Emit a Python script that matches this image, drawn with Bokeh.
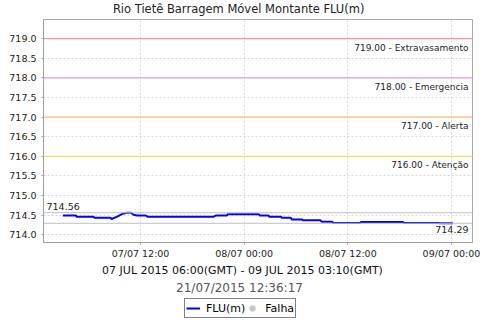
import pandas as pd
from bokeh.plotting import figure
from bokeh.layouts import column
from bokeh.models import (Span, Label, Range1d, FixedTicker, DatetimeTickFormatter,
                          Legend, LegendItem, NumeralTickFormatter, ColumnDataSource)
from bokeh.embed import file_html
from bokeh.resources import INLINE

title_text = "Rio Tietê Barragem Móvel Montante  FLU(m)"
period_text = "07 JUL 2015 06:00(GMT) - 09 JUL 2015 03:10(GMT)"
stamp_text = "21/07/2015 12:36:17"
legend_labels = ["FLU(m)", "Falha"]

times = [
    "2015-07-07 03:00", "2015-07-07 04:30", "2015-07-07 04:36", "2015-07-07 06:30",
    "2015-07-07 06:42", "2015-07-07 08:30", "2015-07-07 08:39", "2015-07-07 09:18",
    "2015-07-07 09:54", "2015-07-07 10:24", "2015-07-07 10:54", "2015-07-07 11:12",
    "2015-07-07 11:36", "2015-07-07 12:36", "2015-07-07 12:48", "2015-07-07 20:30",
    "2015-07-07 20:42", "2015-07-07 22:00", "2015-07-07 22:06", "2015-07-08 01:42",
    "2015-07-08 01:48", "2015-07-08 02:48", "2015-07-08 02:54", "2015-07-08 04:12",
    "2015-07-08 04:24", "2015-07-08 05:24", "2015-07-08 05:30", "2015-07-08 06:42",
    "2015-07-08 06:48", "2015-07-08 08:48", "2015-07-08 09:00", "2015-07-08 10:12",
    "2015-07-08 10:18", "2015-07-08 11:30", "2015-07-08 13:24", "2015-07-08 13:30",
    "2015-07-08 17:12", "2015-07-08 18:24", "2015-07-08 18:30", "2015-07-08 22:30",
    "2015-07-08 22:36", "2015-07-09 00:10",
]
levels = [
    714.49, 714.49, 714.46, 714.46,
    714.43, 714.43, 714.40, 714.46,
    714.53, 714.56, 714.56, 714.51,
    714.49, 714.49, 714.46, 714.46,
    714.49, 714.49, 714.52, 714.52,
    714.49, 714.49, 714.46, 714.46,
    714.43, 714.43, 714.39, 714.39,
    714.37, 714.37, 714.33, 714.33,
    714.30, 714.30, 714.30, 714.32,
    714.32, 714.32, 714.30, 714.30,
    714.29, 714.29,
]

threshold_values = [719.0, 718.0, 717.0, 716.0]
threshold_names = ["Extravasamento", "Emergencia", "Alerta", "Atenção"]
threshold_colors = ["#ff8080", "#e080e8", "#ffb060", "#e8e040"]

max_value = 714.56
min_value = 714.29

x_ticks = ["2015-07-07 12:00", "2015-07-08 00:00", "2015-07-08 12:00", "2015-07-09 00:00"]
y_ticks = [714.0, 714.5, 715.0, 715.5, 716.0, 716.5, 717.0, 717.5, 718.0, 718.5, 719.0]
x_start, x_end = "2015-07-07 00:46", "2015-07-09 02:26"
y_start, y_end = 713.8, 719.49

FONT = "DejaVu Sans"
LEFT, RIGHT = 43, 8
HEAD_H, MAIN_H, FOOT_H = 17, 245, 58


def text_strip(height):
    """A blank strip whose data units equal page pixels (x) and pixels from its top (y)."""
    s = figure(width=480, height=height, output_backend="svg", toolbar_location=None,
               x_range=Range1d(LEFT, 480 - RIGHT), y_range=Range1d(height, 0),
               x_axis_location=None, y_axis_location=None,
               min_border_left=LEFT, min_border_right=RIGHT,
               min_border_top=0, min_border_bottom=0)
    s.title.visible = False
    s.grid.visible = False
    s.outline_line_color = None
    s.background_fill_color = "white"
    s.border_fill_color = "white"
    return s


src = ColumnDataSource(dict(t=pd.to_datetime(times), v=levels))
to_ms = lambda s: pd.Timestamp(s).value / 1e6

# ---------------- header ----------------
h = text_strip(HEAD_H)
h.add_layout(Label(x=240, y=8.5, text=title_text, text_align="center",
                   text_baseline="middle", text_font=FONT, text_font_size="11.5px",
                   text_color="#222222"))

# ---------------- main chart ----------------
p = figure(width=480, height=MAIN_H, output_backend="svg", toolbar_location=None,
           x_axis_type="datetime",
           x_range=Range1d(pd.Timestamp(x_start), pd.Timestamp(x_end)),
           y_range=Range1d(y_start, y_end),
           min_border_left=LEFT, min_border_right=RIGHT, min_border_top=2,
           min_border_bottom=20)
p.title.visible = False
p.background_fill_color = "white"
p.border_fill_color = "white"
p.outline_line_color = "#a8a8a8"

p.xaxis.ticker = FixedTicker(ticks=[to_ms(t) for t in x_ticks])
p.xaxis.formatter = DatetimeTickFormatter(hours="%d/%m %H:%M", days="%d/%m %H:%M",
                                          minutes="%d/%m %H:%M", hourmin="%d/%m %H:%M")
p.yaxis.ticker = FixedTicker(ticks=y_ticks)
p.yaxis.formatter = NumeralTickFormatter(format="0.0")
for ax in (p.xaxis[0], p.yaxis[0]):
    ax.axis_line_color = "#a0a0a0"
    ax.major_tick_line_color = "#a0a0a0"
    ax.major_tick_in = 0
    ax.major_tick_out = 2
    ax.minor_tick_line_color = None
    ax.major_label_text_font = FONT
    ax.major_label_text_color = "#222222"
p.yaxis.major_label_text_font_size = "9.5px"
p.xaxis.major_label_text_font_size = "9.5px"
p.xaxis.major_label_standoff = 3
p.yaxis.major_label_standoff = 5

for g in (p.xgrid[0], p.ygrid[0]):
    g.grid_line_color = "#d8d8d8"
    g.grid_line_dash = "2 2"
    g.grid_line_width = 1

for val, name, col in zip(threshold_values, threshold_names, threshold_colors):
    p.add_layout(Span(location=val, dimension="width", line_color=col, line_width=1))
    p.add_layout(Label(x=425, y=val, x_units="screen", y_units="data",
                       text=f"{val:.2f} - {name}", text_align="right", text_baseline="top",
                       y_offset=-4, text_font=FONT, text_font_size="9px",
                       text_color="#222222"))

for val in (max_value, min_value):
    p.add_layout(Span(location=val, dimension="width", line_color="#c0c0c0", line_width=1))
p.add_layout(Label(x=3, y=max_value, x_units="screen", text=f"{max_value:.2f}",
                   text_align="left", text_baseline="bottom", y_offset=3,
                   text_font=FONT, text_font_size="9.5px", text_color="#222222"))
p.add_layout(Label(x=425, y=min_value, x_units="screen", text=f"{min_value:.2f}",
                   text_align="right", text_baseline="top", y_offset=-3,
                   text_font=FONT, text_font_size="9.5px", text_color="#222222"))

p.line("t", "v", source=src, line_color="#0000ff", line_width=2)

# ---------------- footer (period, timestamp, legend) ----------------
f = text_strip(FOOT_H)
f.add_layout(Label(x=242, y=8, text=period_text, text_align="center",
                   text_baseline="middle", text_font=FONT, text_font_size="11px",
                   text_color="#111111"))
f.add_layout(Label(x=239, y=25.5, text=stamp_text, text_align="center",
                   text_baseline="middle", text_font=FONT, text_font_size="12px",
                   text_color="#555555"))

# legend swatches (kept off-view; they only feed the legend)
lg_line = f.line(x=[0, 1], y=[-10, -10], line_color="#0000ff", line_width=2)
lg_fail = f.scatter(x=[0], y=[-10], marker="circle", size=7, fill_color="#c8c8c8",
                    line_color="#c8c8c8")
legend = Legend(items=[LegendItem(label=legend_labels[0], renderers=[lg_line]),
                       LegendItem(label=legend_labels[1], renderers=[lg_fail])],
                location=(184 - LEFT, 2), orientation="horizontal",
                label_text_font=FONT, label_text_font_size="11px",
                label_text_color="#000000",
                glyph_width=14, glyph_height=16, label_height=16,
                label_standoff=6, spacing=0, padding=1, margin=0,
                border_line_color="black", border_line_width=1,
                background_fill_alpha=1)
f.add_layout(legend, "center")

layout = column(h, p, f, spacing=0)
open("out.html", "w").write(file_html(layout, INLINE))
